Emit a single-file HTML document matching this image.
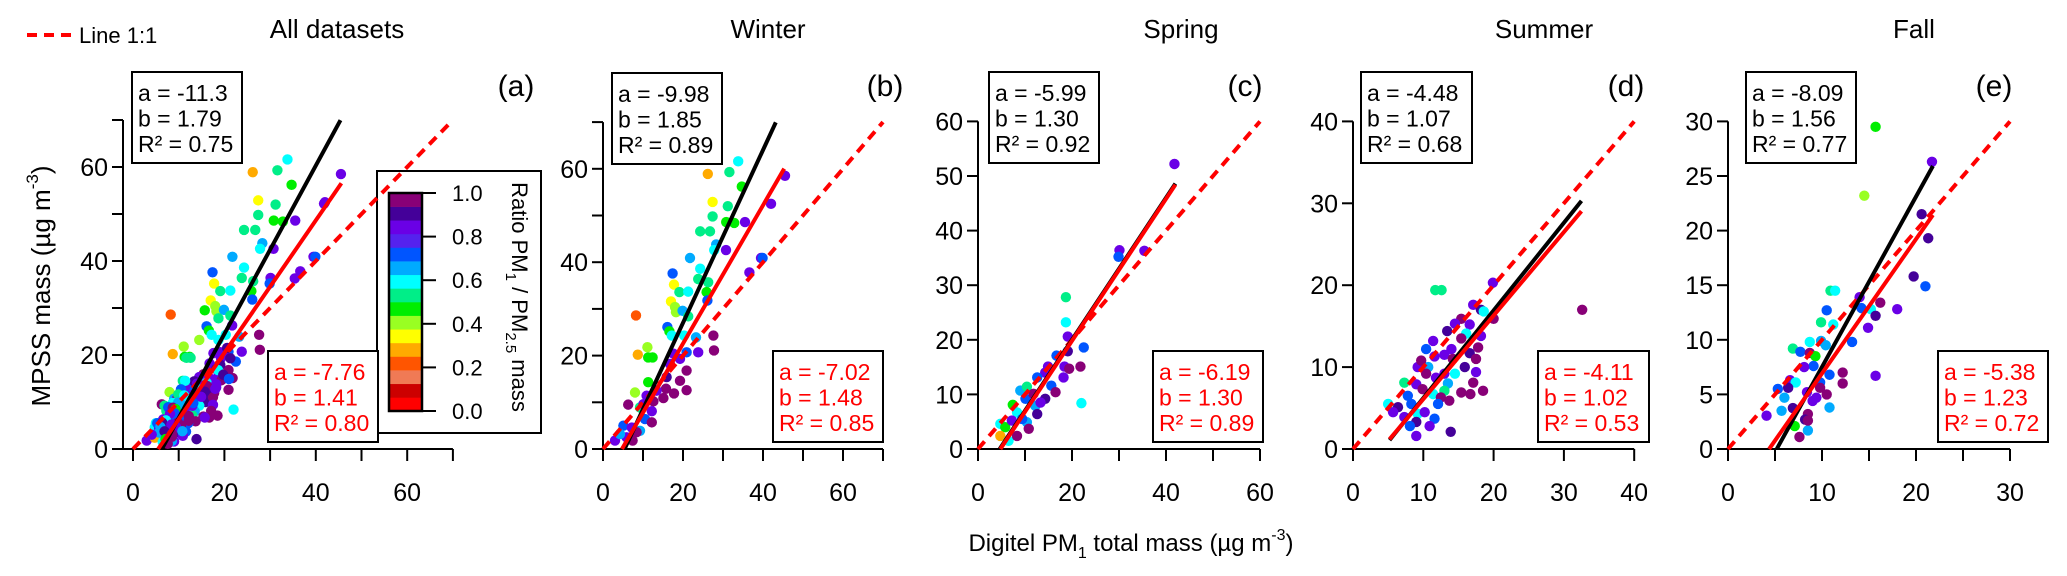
<!DOCTYPE html>
<html><head><meta charset="utf-8"><style>
html,body{margin:0;padding:0;background:#fff}
svg{display:block;font-family:"Liberation Sans",Arial,sans-serif}
</style></head><body>
<svg id="chart" width="2067" height="576" viewBox="0 0 2067 576" xmlns="http://www.w3.org/2000/svg">
<g>
<line x1="27" y1="35" x2="71" y2="35" stroke="#ff0000" stroke-width="4" stroke-dasharray="10,7"/>
<text x="79" y="43" font-size="22">Line 1:1</text>
</g>
<text transform="translate(50,286) rotate(-90)" text-anchor="middle" font-size="26">MPSS mass (µg m<tspan dy="-12" font-size="17">-3</tspan><tspan dy="12">)</tspan></text>
<text x="1131" y="551" text-anchor="middle" font-size="24">Digitel PM<tspan dy="7" font-size="16">1</tspan><tspan dy="-7"> total mass (µg m</tspan><tspan dy="-11" font-size="16">-3</tspan><tspan dy="11">)</tspan></text>
<g id="colorbar"></g>
<g id="panels"></g>
</svg>
<script>
// ---- data ----
const winterX=[33.8,31.6,26.2,34.7,27.4,31.2,27.4,35.5,30.8,32.8,24.3,26.75,28.3,27.8,30.75,21.75,39.5,39.9,24.3,36.6,17.4,23.8,26.3,17.75,19.1,21.3,25.9,17,26.1,18,18.25,19.9,21.3,8.25,16.1,16.6,17.2,23.25,20.3,27.6,27.75,11.1,11.3,12.4,8.7,23.8,20.9,17.6,19.25,16.75,20.9,15.9,11.3,19.25,8,15.75,20.9,17.75,15.1,12.6,6.3,9.25,10.1,12.2,10.5,12.2,9.25,5.1,7.2,3,5.9,7.4,4.25,8.4,10.9,13.4,45.5,42];
const winterY=[61.6,59.3,58.9,56.2,52.9,52,49.8,48.6,48.6,48.4,46.6,46.6,43.8,42.6,42.6,40.9,40.9,40.9,38.6,37.8,37.6,36.4,35.7,35.2,33.6,33.7,33.6,31.6,31.8,30.4,29.3,29.6,28.4,28.6,26.1,25.2,24.3,23.9,24.3,24.3,21.1,21.8,19.6,19.6,20.2,20.7,20.7,20.4,19.3,18.2,16.8,15.4,14.3,14.6,12.1,12.9,12.6,11.9,10.9,10.2,9.5,8.9,9.6,8.1,6.4,5.7,3.9,5.0,4.6,1.8,2.5,1.8,3.2,3.6,11.4,12.5,58.5,52.5];
const winterR=[.58,.52,.28,.45,.33,.52,.52,.83,.45,.45,.52,.52,.64,.58,.83,.64,.83,.7,.58,.83,.7,.52,.52,.33,.52,.58,.45,.33,.7,.4,.4,.64,.52,.2,.7,.45,.58,.64,.58,.97,.97,.4,.45,.45,.28,.83,.7,.83,.83,.83,.97,.9,.45,.97,.4,.97,.97,.97,.97,.97,.97,.52,.83,.83,.7,.97,.64,.7,.83,.83,.83,.97,.64,.97,.83,.83,.83,.83];
const springX=[41.8,30.1,29.9,35.4,18.7,18.7,19.1,22.5,21.8,16.7,19.1,18.4,19.4,14.9,14.3,12.6,18.2,15.6,16.5,14.3,22,9,10.4,10.1,12.2,7.4,12.6,8.3,10.4,10.8,4.75,5.8,4.75,6.5,8.3,7.2,9.4,13.3,11.8];
const springY=[52.2,36.4,35.2,36.3,27.8,23.2,20.6,18.6,15.1,17.1,17.9,15.1,14.7,15.1,14,13.1,13.1,11.6,10.4,9.2,8.4,10.7,11.4,9.2,7.9,8.1,6.4,6.7,4.9,3.7,4.6,4,2.4,1.5,2.4,5.2,5.5,8.5,10.1];
const springR=[.83,.83,.7,.83,.52,.58,.83,.7,.97,.7,.9,.83,.97,.83,.83,.7,.83,.7,.97,.9,.58,.64,.52,.7,.64,.45,.9,.58,.64,.97,.58,.45,.28,.58,.97,.83,.7,.83,.97];
const summerX=[19.9,11.7,12.6,32.6,17.1,18.2,18.6,20.0,15.4,14.5,16.6,13.4,16.1,18.2,15.4,11.4,10.4,14,13.0,11.6,17.8,16.6,14.2,15.9,17.5,10.7,9.2,17.5,10.4,14.5,11.8,17.1,13.5,7.3,9,13,11.4,15.4,16.7,18.5,9.9,7.8,12.5,13.7,12.1,5,8.3,6.4,5.7,9.2,10.2,11.6,7.3,9,10.9,8.1,9,13.9,13,9.7];
const summerY=[20.3,19.4,19.4,17.0,17.6,17,16.8,15.9,15.9,15.3,15.2,14.4,14.1,13.8,13.5,13.2,12.2,12.2,11.5,11.3,12.4,11.7,11,10,11,10,10,9.4,9.2,9.2,8.7,8.1,8,8.1,7.9,7.1,6.7,6.9,6.7,7.1,7.3,6.5,6.3,5.9,5.5,5.5,5.5,5.1,4.5,4.3,4.5,3.7,3.9,3.3,2.8,2.8,1.6,2.1,9.2,10.8];
const summerR=[.83,.52,.52,.97,.83,.9,.58,.97,.97,.83,.83,.9,.58,.83,.97,.83,.7,.83,.83,.83,.97,.9,.97,.9,.97,.64,.83,.83,.97,.58,.83,.97,.64,.52,.83,.52,.58,.97,.97,.97,.97,.7,.97,.97,.7,.58,.7,.9,.83,.58,.83,.7,.83,.9,.83,.7,.83,.9,.83,.97];
const fallX=[15.7,21.7,14.5,20.6,21.3,19.75,21,10.9,11.4,14,14.2,15.2,16.2,18,15.7,10.5,9.9,11.2,14.9,8.7,9.9,10.4,13.2,6.9,7.7,8.7,9.3,9.1,8.1,10.8,12.2,12.2,15.7,6.6,7.2,9.8,5.3,6.4,9.8,10.5,6,8.4,9,9.4,5.7,4.1,6.9,10.8,8.5,8.2,7.1,8.5,7.6,8.5];
const fallY=[29.5,26.3,23.2,21.5,19.3,15.8,14.9,14.5,14.5,13.9,12.9,12.8,13.4,12.8,12.2,12.7,11.6,11.4,11.1,9.8,9.9,9.5,9.8,9.2,8.9,8.8,8.5,7.6,7.5,6.8,7,6,6.7,6.3,6.1,6.1,5.5,5.6,5.6,5,4.7,5.2,4.4,4.7,3.5,3.05,3.75,3.8,3.2,2.7,2.1,1.7,1.1,2.6];
const fallR=[.45,.83,.4,.9,.9,.9,.7,.52,.58,.83,.7,.58,.97,.83,.9,.7,.52,.58,.83,.58,.64,.64,.7,.52,.7,.97,.45,.7,.83,.7,.97,.97,.83,.83,.58,.7,.7,.9,.97,.97,.64,.83,.83,.83,.64,.83,.9,.64,.97,.9,.45,.64,.97,.97];
// regression: [intercept, slope, xStart, xEnd]
const blackFit=[[-11.3,1.79,6.31,45.4],[-9.98,1.85,5.39,43.2],[-5.99,1.30,4.61,42],[-4.48,1.07,5.2,32.5],[-8.09,1.56,5.19,21.8]];
const redFit=[[-7.76,1.41,5.5,45.6],[-7.02,1.48,4.74,45.3],[-6.19,1.30,4.76,42],[-4.11,1.02,5.2,32.5],[-5.38,1.23,4.37,21.8]];
const blackStats=[["-11.3","1.79","0.75"],["-9.98","1.85","0.89"],["-5.99","1.30","0.92"],["-4.48","1.07","0.68"],["-8.09","1.56","0.77"]];
const redStats=[["-7.76","1.41","0.80"],["-7.02","1.48","0.85"],["-6.19","1.30","0.89"],["-4.11","1.02","0.53"],["-5.38","1.23","0.72"]];
const titles=["All datasets","Winter","Spring","Summer","Fall"];
const letters=["(a)","(b)","(c)","(d)","(e)"];
const xMaxes=[70,70,60,40,30];
const yMaxes=[70,70,60,40,30];
const xTickStep=[10,10,10,10,5];
const xLabelStep=[20,20,20,10,10];
const yTickStep=[10,10,10,10,5];
const yLabelStep=[20,20,10,10,5];
const cbTicks=[0,0.2,0.4,0.6,0.8,1.0];
const palette=["#ff0000","#cc0000","#f07a55","#ff5500","#ffaa00","#ffff00","#99ff22","#00ee00","#00ee88","#00ffff","#00aaff","#0055ff","#5522ee","#6a00e6","#440099","#880077"];

// ---- layout (pixels) ----
const L=[
 {x0:133,px:4.57,y0:449,py:4.7,axX:123,bk:[132,72],rd:[268,351],lab:516,tt:337,bw:110},
 {x0:603,px:4.0,y0:449,py:4.67,axX:603,bk:[612,73],rd:[773,351],lab:885,tt:768,bw:110},
 {x0:978,px:4.7,y0:449,py:5.46,axX:978,bk:[989,72],rd:[1153,351],lab:1245,tt:1181,bw:110},
 {x0:1353,px:7.03,y0:449,py:8.19,axX:1353,bk:[1361,72],rd:[1538,351],lab:1626,tt:1544,bw:111},
 {x0:1728,px:9.4,y0:449,py:10.92,axX:1728,bk:[1746,72],rd:[1938,351],lab:1994,tt:1914,bw:110}
];
const NS="http://www.w3.org/2000/svg";
function mk(tag,attrs,parent){const e=document.createElementNS(NS,tag);for(const k in attrs)e.setAttribute(k,attrs[k]);parent.appendChild(e);return e;}
function colorFor(r){let i=Math.floor(r*16);if(i>15)i=15;if(i<0)i=0;return palette[i];}

const allX=winterX.concat(springX,summerX,fallX);
const allY=winterY.concat(springY,summerY,fallY);
const allR=winterR.concat(springR,summerR,fallR);
const sets=[[allX,allY,allR],[winterX,winterY,winterR],[springX,springY,springR],[summerX,summerY,summerR],[fallX,fallY,fallR]];
const root=document.getElementById('panels');

for(let p=0;p<5;p++){
 const c=L[p];
 const sx=v=>c.x0+v*c.px, sy=v=>c.y0-v*c.py;
 const g=mk('g',{},root);
 
 
 const t=mk('text',{x:c.tt,y:38,'text-anchor':'middle','font-size':26},g);t.textContent=titles[p];
 
 
 const lb=mk('text',{x:c.lab,y:96,'text-anchor':'middle','font-size':30},g);lb.textContent=letters[p];
 
 
 const ax=mk('g',{stroke:'#000','stroke-width':2},g);
 
 
 mk('line',{x1:c.axX,y1:sy(yMaxes[p]),x2:c.axX,y2:c.y0},ax);
 mk('line',{x1:c.axX,y1:c.y0,x2:sx(xMaxes[p]),y2:c.y0},ax);
 for(let v=0;v<=yMaxes[p]+1e-9;v+=yTickStep[p]){
  mk('line',{x1:c.axX-11,y1:sy(v),x2:c.axX,y2:sy(v)},ax);
  if(Math.abs(v/yLabelStep[p]-Math.round(v/yLabelStep[p]))<1e-6){
   const tl=mk('text',{x:c.axX-15,y:sy(v)+9,'text-anchor':'end','font-size':25,stroke:'none'},g);tl.textContent=v;
   
   
  }
 }
 for(let v=0;v<=xMaxes[p]+1e-9;v+=xTickStep[p]){
  mk('line',{x1:sx(v),y1:c.y0,x2:sx(v),y2:c.y0+12},ax);
  if(Math.abs(v/xLabelStep[p]-Math.round(v/xLabelStep[p]))<1e-6){
   const tl=mk('text',{x:sx(v),y:501,'text-anchor':'middle','font-size':25},g);tl.textContent=v;
   
   
  }
 }
 const [X,Y,R]=sets[p];
 const pg=mk('g',{},g);
 
 
 for(let i=0;i<X.length;i++){
  const ci=mk('circle',{cx:sx(X[i]),cy:sy(Y[i]),r:5.2,fill:colorFor(R[i])},pg);
  
  
 }
 const m=Math.min(xMaxes[p],yMaxes[p]);
 const d=mk('line',{x1:sx(0),y1:sy(0),x2:sx(m),y2:sy(m),stroke:'#ff0000','stroke-width':4,'stroke-dasharray':'10,7'},g);
 
 
 const bf=blackFit[p],rf=redFit[p];
 const bl=mk('line',{x1:sx(bf[2]),y1:sy(bf[0]+bf[1]*bf[2]),x2:sx(bf[3]),y2:sy(bf[0]+bf[1]*bf[3]),stroke:'#000','stroke-width':4},g);
 
 
 const rl=mk('line',{x1:sx(rf[2]),y1:sy(rf[0]+rf[1]*rf[2]),x2:sx(rf[3]),y2:sy(rf[0]+rf[1]*rf[3]),stroke:'#ff0000','stroke-width':4},g);
 
 
 [[c.bk,blackStats[p],'#000','stats-box-black'],[c.rd,redStats[p],'#ff0000','stats-box-red']].forEach(([pos,s,col,nm])=>{
  const bg=mk('g',{},g);
  
  
  mk('rect',{x:pos[0],y:pos[1],width:c.bw,height:91,fill:'#fff',stroke:'#000','stroke-width':2},bg);
  const lines=['a = '+s[0],'b = '+s[1],'R² = '+s[2]];
  lines.forEach((ln,k)=>{const tx=mk('text',{x:pos[0]+6,y:pos[1]+29+k*25.5,'font-size':23,fill:col},bg);tx.textContent=ln;});
 });
}
const cb=document.getElementById('colorbar');
mk('rect',{x:377,y:171,width:164,height:262,fill:'#fff',stroke:'#000','stroke-width':2},cb);
const cbTop=193,cbBot=411,cbL=389,cbR=422,bh=(cbBot-cbTop)/palette.length;
for(let i=0;i<palette.length;i++){
 const r=mk('rect',{x:cbL,y:cbBot-(i+1)*bh,width:cbR-cbL,height:bh+0.3,fill:palette[i]},cb);
 
 
}
mk('rect',{x:cbL,y:cbTop,width:cbR-cbL,height:cbBot-cbTop,fill:'none',stroke:'#000','stroke-width':2.5},cb);
cbTicks.forEach(v=>{const y=cbBot-v*(cbBot-cbTop);mk('line',{x1:cbR,y1:y,x2:cbR+14,y2:y,stroke:'#000','stroke-width':2},cb);
 const t=mk('text',{x:cbR+30,y:y+8,'font-size':22},cb);t.textContent=v.toFixed(1);});
const cl=mk('text',{transform:'translate(512,297) rotate(90)','text-anchor':'middle','font-size':22},cb);
cl.innerHTML='Ratio PM<tspan dy="6" font-size="15">1</tspan><tspan dy="-6"> / PM</tspan><tspan dy="6" font-size="15">2.5</tspan><tspan dy="-6"> mass</tspan>';


</script>
</body></html>
